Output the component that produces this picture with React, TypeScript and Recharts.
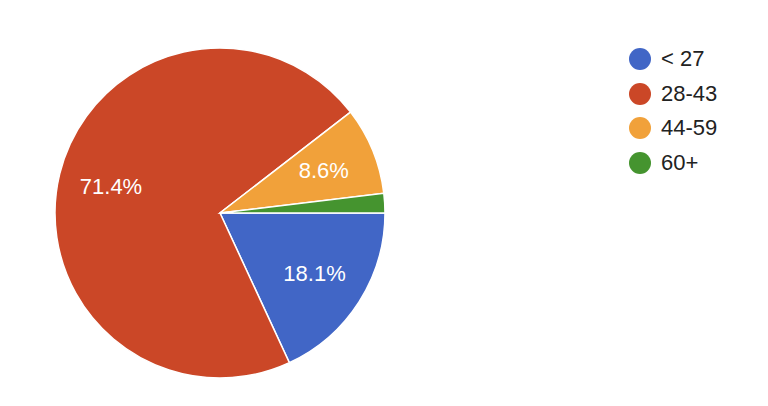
import { PieChart, Pie, Cell, Legend } from 'recharts';

const ageGroups = ['< 27', '28-43', '44-59', '60+'];
const responses = [19, 75, 9, 2];
const sliceColors = ['#4166c6', '#cb4727', '#f1a13a', '#45942f'];

const chartData = ageGroups.map((name, i) => ({ name, value: responses[i] }));

const RADIAN = Math.PI / 180;
const FONT = 'Arial, "Liberation Sans", sans-serif';

function renderLabel({ cx, cy, midAngle, outerRadius, percent }: any) {
  // small slices get no label, like the original
  if (percent < 0.05) return null;
  const r = outerRadius * 0.68;
  const x = cx + r * Math.cos(-midAngle * RADIAN);
  const y = cy + r * Math.sin(-midAngle * RADIAN);
  return (
    <text
      x={x}
      y={y}
      fill="#fff"
      fontSize={22}
      fontFamily={FONT}
      textAnchor="middle"
      dominantBaseline="central"
    >
      {`${(percent * 100).toFixed(1)}%`}
    </text>
  );
}

// keep the legend in data order (recharts sorts the payload otherwise)
function LegendList() {
  return (
    <div style={{ fontFamily: FONT, fontSize: 22, color: '#222' }}>
      {ageGroups.map((name, i) => (
        <div key={`legend-${i}`} style={{ display: 'flex', alignItems: 'center', height: 34.6 }}>
          <span
            style={{
              width: 22,
              height: 22,
              borderRadius: '50%',
              background: sliceColors[i],
              display: 'inline-block',
              marginRight: 10,
            }}
          />
          <span>{name}</span>
        </div>
      ))}
    </div>
  );
}

export default function App() {
  return (
    <div style={{ position: 'absolute', left: 0, top: 0, width: 768, height: 406, background: '#fff' }}>
      <PieChart width={768} height={406} margin={{ top: 0, right: 0, bottom: 0, left: 0 }}>
        <Pie
          data={chartData}
          dataKey="value"
          nameKey="name"
          cx={220}
          cy={213}
          outerRadius={165}
          startAngle={0}
          endAngle={-360}
          stroke="#fff"
          strokeWidth={1.5}
          labelLine={false}
          label={renderLabel}
          isAnimationActive={false}
        >
          {chartData.map((entry, index) => (
            <Cell key={`cell-${index}`} fill={sliceColors[index]} />
          ))}
        </Pie>
        <Legend
          layout="vertical"
          content={<LegendList />}
          wrapperStyle={{ position: 'absolute', left: 629, top: 42, width: 130 }}
        />
      </PieChart>
    </div>
  );
}
